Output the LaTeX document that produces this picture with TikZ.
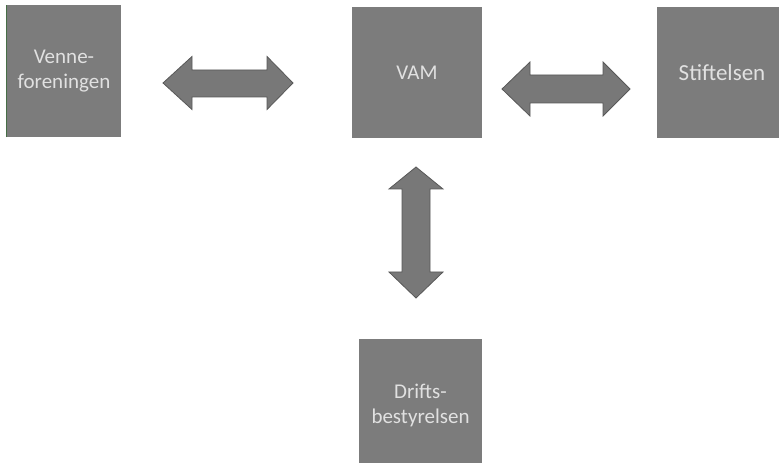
\documentclass[tikz,border=0pt]{standalone}
\usepackage{fontspec}
\setmainfont{Carlito}
\definecolor{boxgrey}{RGB}{124,124,124}
\definecolor{arrowgrey}{RGB}{120,120,120}
\definecolor{arrowedge}{RGB}{88,88,88}
\definecolor{textgrey}{RGB}{225,225,225}
\definecolor{edgegreen}{RGB}{70,110,70}
\begin{document}
\begin{tikzpicture}[x=1bp,y=-1bp,
  orgbox/.style={rectangle, fill=boxgrey, draw=none, inner sep=0pt, align=center,
    text=textgrey, font=\fontsize{21bp}{25bp}\selectfont},
  blockarrow/.style={fill=arrowgrey, draw=arrowedge, line width=0.8bp, line join=miter}]
\useasboundingbox (0,0) rectangle (779,463);
\clip (0,0) rectangle (779,463);
\fill[white] (0,0) rectangle (779,463);
% boxes
\node[orgbox, minimum width=114bp, minimum height=132bp] (venne) at (64,71) {Venne-\\foreningen};
\node[orgbox, minimum width=130bp, minimum height=131bp] (vam) at (417,73) {VAM};
\node[orgbox, minimum width=130bp, minimum height=131bp, font=\fontsize{23bp}{27bp}\selectfont] (stift) at (722,73) {Stiftelsen};
\node[orgbox, minimum width=123bp, minimum height=131bp] (drifts) at (420.5,405) {Drifts-\\bestyrelsen};
\draw[edgegreen, line width=1.2bp] (venne.south west) -- (venne.north west);
% double block arrows
\draw[blockarrow] (163,83) -- (192,56.5) -- (192,70) -- (267,70) -- (267,56.5) -- (293,83)
  -- (267,109.5) -- (267,97) -- (192,97) -- (192,109.5) -- cycle;
\draw[blockarrow] (502,89) -- (530,62) -- (530,75) -- (603,75) -- (603,62) -- (630,89)
  -- (603,116) -- (603,103) -- (530,103) -- (530,116) -- cycle;
\draw[blockarrow] (416,167) -- (443,189) -- (430,189) -- (430,272) -- (443,272) -- (416,298)
  -- (389,272) -- (402,272) -- (402,189) -- (389,189) -- cycle;
\end{tikzpicture}
\end{document}
